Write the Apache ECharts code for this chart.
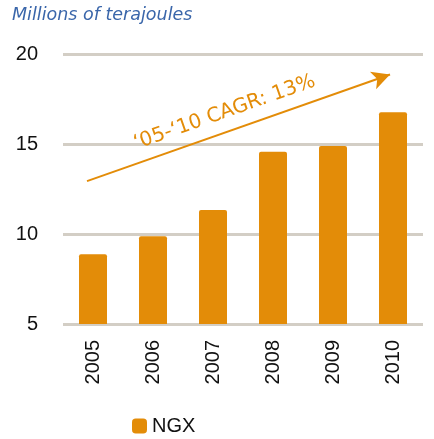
<!DOCTYPE html>
<html>
<head>
<meta charset="utf-8">
<script src="https://cdn.jsdelivr.net/npm/echarts@6/dist/echarts.min.js"></script>
<style>
html,body{margin:0;padding:0;background:#fff;}
#chart{width:434px;height:439px;}
</style>
</head>
<body>
<div id="chart"></div>
<script>
const years = ['2005', '2006', '2007', '2008', '2009', '2010'];
const ngx = [8.88, 9.88, 11.33, 14.57, 14.89, 16.76];
const yMin = 5, yMax = 20, yStep = 5;
const unitTitle = 'Millions of terajoules';
const seriesName = 'NGX';
const cagrText = '\u201805-\u201810 CAGR: 13%';
const arrowFrom = [-0.1, 12.94];
const arrowTo = [4.95, 18.86];

const orange = '#E38C08';
const chart = echarts.init(document.getElementById('chart'), null, {renderer: 'canvas'});
chart.setOption({
  animation: false,
  backgroundColor: '#fff',
  title: {
    text: unitTitle,
    left: 7, top: 1,
    textStyle: {fontFamily: 'DejaVu Sans', fontStyle: 'italic', fontWeight: 'normal', fontSize: 17.5, color: '#3A66AA'}
  },
  legend: {
    data: [seriesName],
    left: 127, top: 411,
    itemWidth: 15, itemHeight: 15,
    icon: 'roundRect',
    textStyle: {fontFamily: 'Liberation Sans', fontSize: 20, color: '#111'}
  },
  grid: {left: 63, right: 11, top: 54, bottom: 115, containLabel: false},
  xAxis: [{
    type: 'category',
    data: years,
    axisLine: {show: false},
    axisTick: {show: false},
    axisLabel: {rotate: 90, margin: 16, fontFamily: 'Liberation Sans', fontSize: 20, color: '#111'}
  }, {
    type: 'value', min: -0.5, max: 5.5, show: false
  }],
  yAxis: {
    type: 'value', min: yMin, max: yMax, interval: yStep,
    axisLine: {show: false}, axisTick: {show: false},
    axisLabel: {margin: 25, fontFamily: 'Liberation Sans', fontSize: 20, color: '#111'},
    splitLine: {lineStyle: {color: '#D3CEC5', width: 3}}
  },
  series: [{
    name: seriesName,
    type: 'bar',
    data: ngx,
    barWidth: 28,
    itemStyle: {color: orange, borderRadius: [2, 2, 0, 0]},
    z: 3
  }, {
    name: 'arrow',
    type: 'line',
    xAxisIndex: 1,
    data: [arrowFrom, arrowTo],
    symbol: 'none',
    lineStyle: {opacity: 0},
    silent: true,
    z: 4,
    markLine: {
      silent: true,
      symbol: ['none', 'arrow'],
      symbolSize: [14, 18],
      lineStyle: {color: orange, width: 2, type: 'solid'},
      label: {
        show: true,
        position: 'insideMiddleTop',
        distance: 9,
        padding: [0, 16, 0, 0],
        formatter: cagrText,
        fontFamily: 'DejaVu Sans',
        fontSize: 20,
        color: orange
      },
      data: [[{coord: arrowFrom}, {coord: arrowTo}]]
    }
  }]
});
</script>
</body>
</html>
